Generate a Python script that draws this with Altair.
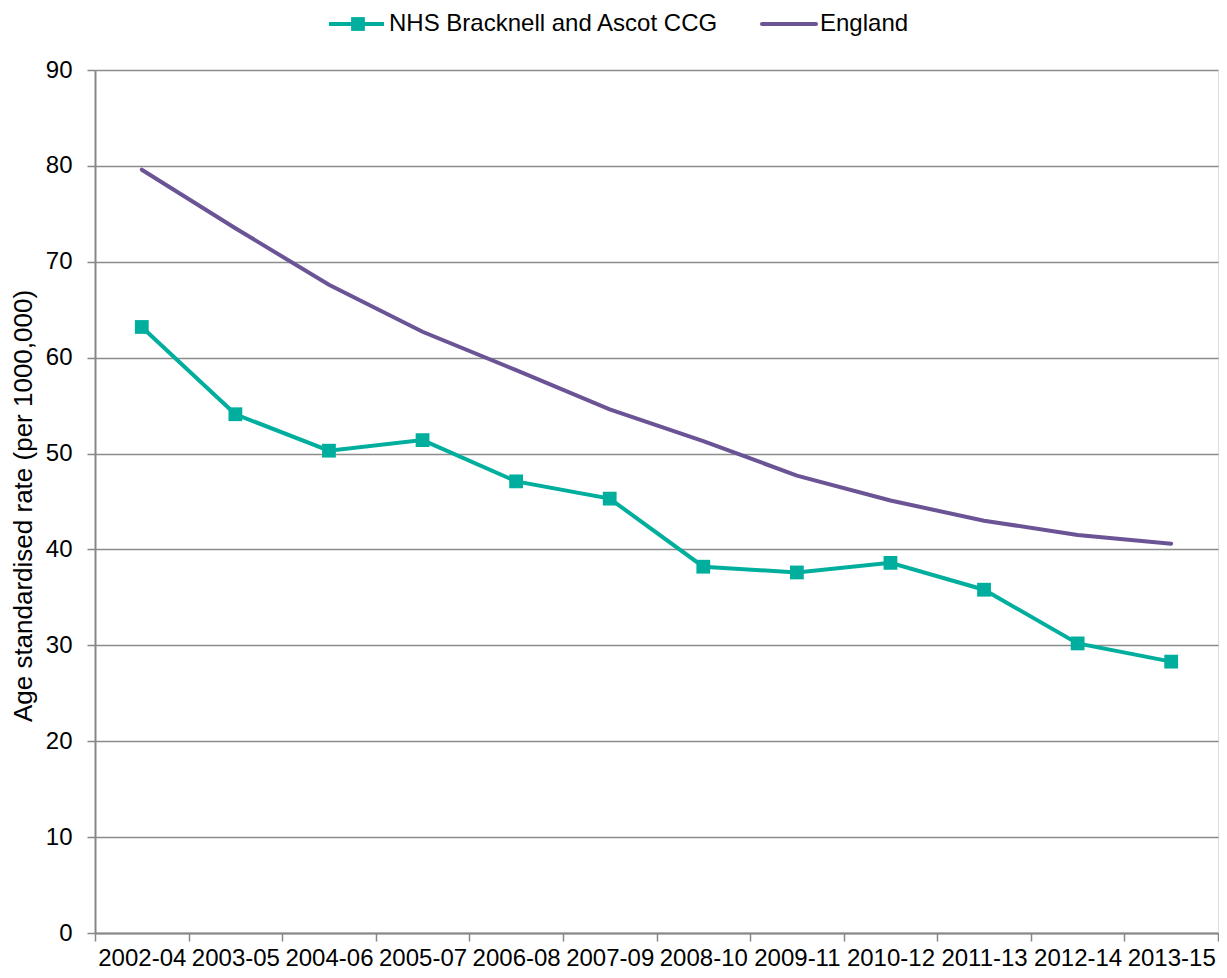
import altair as alt
import pandas as pd

periods = ["2002-04", "2003-05", "2004-06", "2005-07", "2006-08", "2007-09",
           "2008-10", "2009-11", "2010-12", "2011-13", "2012-14", "2013-15"]
ccg = [63.2, 54.1, 50.3, 51.4, 47.1, 45.3, 38.2, 37.6, 38.6, 35.8, 30.2, 28.3]
england = [79.6, 73.5, 67.6, 62.7, 58.7, 54.6, 51.3, 47.7, 45.1, 43.0, 41.5, 40.6]
series_names = ["NHS Bracknell and Ascot CCG", "England"]
series_colors = ["#00AE9D", "#6B5495"]
y_ticks = [0, 10, 20, 30, 40, 50, 60, 70, 80, 90]
y_title = "Age standardised rate (per 1000,000)"

FONT = "Liberation Sans"
W, H = 1123, 863

df = pd.DataFrame({
    "period": periods * 2,
    "value": ccg + england,
    "series": [series_names[0]] * len(periods) + [series_names[1]] * len(periods),
})

x_enc = alt.X(
    "period:N", sort=periods,
    scale=alt.Scale(type="band", paddingInner=0, paddingOuter=0),
    axis=alt.Axis(title=None, labelAngle=0, tickBand="extent", labelFont=FONT,
                  labelFontSize=24, labelColor="#000", labelPadding=5,
                  domainColor="#878787", domainWidth=2, tickColor="#878787",
                  tickWidth=1.5, tickSize=8, grid=False),
)
y_enc = alt.Y(
    "value:Q",
    scale=alt.Scale(domain=[0, 90], nice=False, zero=True),
    axis=alt.Axis(values=y_ticks, title=y_title, titleFont=FONT, titleFontSize=26,
                  titleFontWeight="normal", titleColor="#000", titleX=-64,
                  titleY=H / 2 + 4, titleBaseline="alphabetic", titleAngle=270,
                  labelFont=FONT, labelFontSize=24, labelColor="#000", labelPadding=15,
                  domainColor="#878787", domainWidth=2, tickColor="#878787",
                  tickWidth=1.5, tickSize=8, grid=True, gridColor="#8C8C8C",
                  gridWidth=1.5),
)
color_enc = alt.Color("series:N",
                      scale=alt.Scale(domain=series_names, range=series_colors),
                      legend=None)

base = alt.Chart(df)
lines = base.mark_line(strokeWidth=4, strokeCap="round").encode(x=x_enc, y=y_enc, color=color_enc)
points = base.transform_filter(
    alt.datum.series == series_names[0]
).mark_point(shape="square", filled=True, size=190, opacity=1).encode(
    x=x_enc, y=y_enc, color=color_enc)

# manual legend (top, centred)
dummy = pd.DataFrame({"a": [0]})
LY = -46
leg_ccg_line = alt.Chart(dummy).mark_rule(color=series_colors[0], strokeWidth=4).encode(
    x=alt.value(234), x2=alt.value(289), y=alt.value(LY))
leg_ccg_pt = alt.Chart(dummy).mark_point(shape="square", filled=True, size=190, opacity=1,
                                         color=series_colors[0]).encode(
    x=alt.value(263), y=alt.value(LY))
leg_ccg_txt = alt.Chart(dummy).mark_text(align="left", baseline="middle", font=FONT,
                                         fontSize=24, color="#000").encode(
    x=alt.value(294), y=alt.value(LY), text=alt.value(series_names[0]))
leg_eng_line = alt.Chart(dummy).mark_rule(color=series_colors[1], strokeWidth=4,
                                          strokeCap="round").encode(
    x=alt.value(667), x2=alt.value(721), y=alt.value(LY))
leg_eng_txt = alt.Chart(dummy).mark_text(align="left", baseline="middle", font=FONT,
                                         fontSize=24, color="#000").encode(
    x=alt.value(725), y=alt.value(LY), text=alt.value(series_names[1]))

chart = alt.layer(
    lines, points, leg_ccg_line, leg_ccg_pt, leg_ccg_txt, leg_eng_line, leg_eng_txt
).properties(
    width=W, height=H,
    padding={"left": 87, "top": 62, "right": 1, "bottom": 37},
    autosize=alt.AutoSizeParams(type="none"),
).configure_view(
    stroke="#1a1a1a", strokeWidth=2
).configure(background="white")

chart.save("out.html", embed_options={"renderer": "svg", "actions": False})
